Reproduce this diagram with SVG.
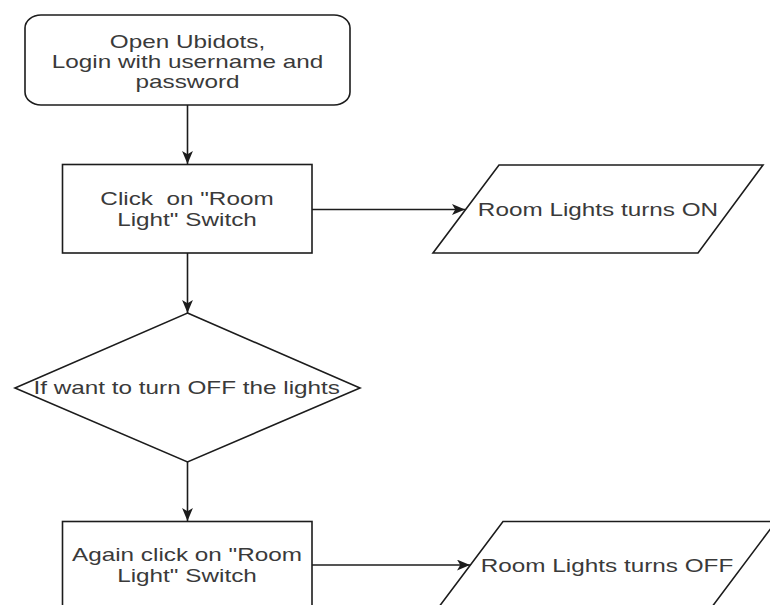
<svg xmlns="http://www.w3.org/2000/svg" width="770" height="605" viewBox="0 0 770 605">
<defs>
<style>
.shape{fill:#ffffff;stroke:#1c1c1c;stroke-width:1.6}
.edge{fill:none;stroke:#1c1c1c;stroke-width:1.6}
.lbl{font-family:"Liberation Sans",Arial,sans-serif;font-size:18px;fill:#3a3a3a;text-anchor:middle}
</style>
<marker id="arr" viewBox="0 0 12 10" refX="12" refY="5" markerWidth="13" markerHeight="11" markerUnits="userSpaceOnUse" orient="auto">
<path d="M0,0 L12,5 L0,10 L3,5 z" fill="#1c1c1c"/>
</marker>
</defs>
<rect width="770" height="605" fill="#ffffff"/>
<g id="connectors">
<line class="edge" x1="187.5" y1="105" x2="187.5" y2="164" marker-end="url(#arr)"/>
<line class="edge" x1="312" y1="209.5" x2="465" y2="209.5" marker-end="url(#arr)"/>
<line class="edge" x1="187.5" y1="253" x2="187.5" y2="313" marker-end="url(#arr)"/>
<line class="edge" x1="187.5" y1="462" x2="187.5" y2="521" marker-end="url(#arr)"/>
<line class="edge" x1="312" y1="565" x2="470" y2="565" marker-end="url(#arr)"/>
</g>
<g id="start">
<rect class="shape" x="25" y="15" width="325" height="90" rx="16" ry="13"/>
<text class="lbl" transform="matrix(1.35 0 0 1 187.5 0)" x="0" y="48">Open Ubidots,</text>
<text class="lbl" transform="matrix(1.35 0 0 1 187.5 0)" x="0" y="68">Login with username and</text>
<text class="lbl" transform="matrix(1.35 0 0 1 187.5 0)" x="0" y="88">password</text>
</g>
<g id="click-on">
<rect class="shape" x="62.5" y="164.5" width="249.5" height="88.5"/>
<text class="lbl" transform="matrix(1.35 0 0 1 187 0)" x="0" y="205" xml:space="preserve">Click  on "Room</text>
<text class="lbl" transform="matrix(1.35 0 0 1 187 0)" x="0" y="226">Light" Switch</text>
</g>
<g id="lights-on">
<polygon class="shape" points="499,165 763,165 698,253 433,253"/>
<text class="lbl" transform="matrix(1.35 0 0 1 598 0)" x="0" y="216">Room Lights turns ON</text>
</g>
<g id="decision">
<polygon class="shape" points="187.5,313 360,388 187.5,462 15,388"/>
<text class="lbl" transform="matrix(1.35 0 0 1 186.7 0)" x="0" y="394.5">If want to turn OFF the lights</text>
</g>
<g id="click-again">
<rect class="shape" x="62.5" y="521.5" width="249.5" height="88.5"/>
<text class="lbl" transform="matrix(1.35 0 0 1 187 0)" x="0" y="561.5">Again click on "Room</text>
<text class="lbl" transform="matrix(1.35 0 0 1 187 0)" x="0" y="582.5">Light" Switch</text>
</g>
<g id="lights-off">
<polygon class="shape" points="503,521.5 776,521.5 710,609.5 437,609.5"/>
<text class="lbl" transform="matrix(1.35 0 0 1 607 0)" x="0" y="572">Room Lights turns OFF</text>
</g>
</svg>
